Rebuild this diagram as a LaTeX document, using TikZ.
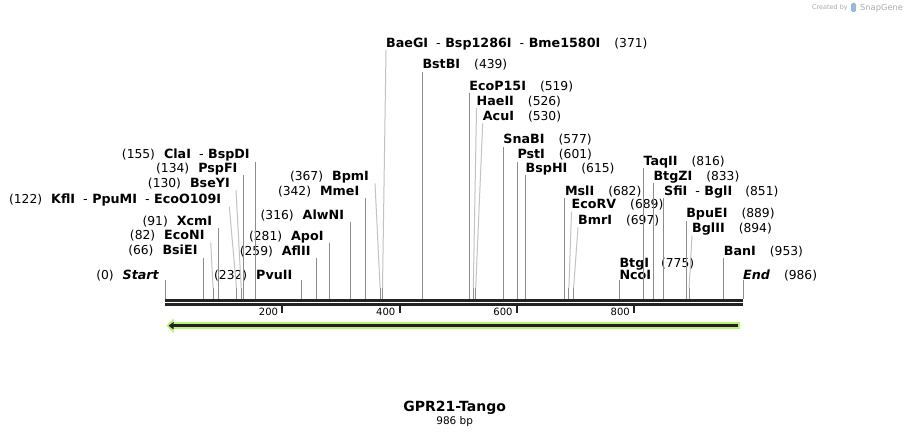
\documentclass[tikz,border=0pt]{standalone}
\usepackage{fontspec}
\setmainfont{DejaVu Sans}
\usepackage{xcolor}
\usepackage{tikz}
\usetikzlibrary{arrows.meta}

\definecolor{cutgray}{RGB}{140,140,140}
\definecolor{bentgray}{RGB}{195,195,195}
\definecolor{axisblack}{RGB}{34,34,34}
\definecolor{featgreen}{RGB}{185,240,120}
\definecolor{creditgray}{RGB}{170,170,170}
\definecolor{logoblue}{RGB}{150,185,215}

\newcommand{\enz}[1]{{\fontsize{12.7}{15}\selectfont\bfseries #1}}
\newcommand{\pos}[1]{{\fontsize{12.3}{15}\selectfont(#1)}}
\newcommand{\cutsep}{{\fontsize{12.7}{15}\selectfont\hspace{8pt}-\hspace{4.5pt}}}

\begin{document}
\begin{tikzpicture}
      [ x=1pt, y=-1pt
      , enzL/.style={anchor=south east, inner xsep=6pt, inner ysep=2.5pt, text depth=0pt}
      , enzR/.style={anchor=south west, inner xsep=0pt, inner ysep=2.5pt, text depth=0pt}
      , lowrow/.style={inner ysep=0.5pt}
      , cut/.style={cutgray, line width=1pt}
      , bent/.style={bentgray, line width=1pt}
      , backbone/.style={axisblack, line width=2.7pt}
      , tick/.style={axisblack, line width=2pt}
      , ticklbl/.style={anchor=base east, inner sep=0pt, font=\fontsize{10}{12}\selectfont}
      ]
    \useasboundingbox[fill=white] (0,0) rectangle (909,438);

    % credit line
    \node[anchor=base east, inner sep=0pt, text=creditgray, font=\fontsize{6.5}{8}\selectfont]
      (credit) at (848,10) {Created by};
    \fill[logoblue, rounded corners=1.5pt] (851,3) rectangle (856,12);
    \node[anchor=base west, inner sep=0pt, text=creditgray, font=\fontsize{8.3}{10}\selectfont]
      (snapgene) at (860,10.5) {SnapGene};

    % cut sites on the backbone
    \coordinate (sStart) at (165,299);
    \coordinate (sBsiEI) at (203.7,299);
    \coordinate (sEcoNI) at (213.1,299);
    \coordinate (sXcmI) at (218.3,299);
    \coordinate (sKflI) at (236.5,299);
    \coordinate (sBseYI) at (241.2,299);
    \coordinate (sPspFI) at (243.6,299);
    \coordinate (sClaI) at (255.9,299);
    \coordinate (sPvuII) at (301.0,299);
    \coordinate (sAflII) at (316.8,299);
    \coordinate (sApoI) at (329.7,299);
    \coordinate (sAlwNI) at (350.2,299);
    \coordinate (sMmeI) at (365.5,299);
    \coordinate (sBpmI) at (380.1,299);
    \coordinate (sBaeGI) at (382.5,299);
    \coordinate (sBstBI) at (422.3,299);
    \coordinate (sEcoP15I) at (469.2,299);
    \coordinate (sHaeII) at (473.3,299);
    \coordinate (sAcuI) at (475.7,299);
    \coordinate (sSnaBI) at (503.2,299);
    \coordinate (sPstI) at (517.3,299);
    \coordinate (sBspHI) at (525.5,299);
    \coordinate (sMslI) at (564.8,299);
    \coordinate (sEcoRV) at (568.9,299);
    \coordinate (sBmrI) at (573.6,299);
    \coordinate (sNcoI) at (619.3,299);
    \coordinate (sTaqII) at (643.3,299);
    \coordinate (sBtgZI) at (653.3,299);
    \coordinate (sSfiI) at (663.9,299);
    \coordinate (sBpuEI) at (686.1,299);
    \coordinate (sBglII) at (689.1,299);
    \coordinate (sBanI) at (723.7,299);
    \coordinate (sEnd) at (743.0,299);

    % labels left of their line
    \node[enzL, lowrow] (lStart) at (165,280) {\pos{0}\hspace{9pt}\enz{\itshape Start}};
    \node[enzL] (lBsiEI) at (203.7,257.5) {\pos{66}\hspace{9pt}\enz{BsiEI}};
    \node[enzL] (lEcoNI) at (210.7,242.5) {\pos{82}\hspace{9pt}\enz{EcoNI}};
    \node[enzL] (lXcmI) at (218.3,228) {\pos{91}\hspace{9pt}\enz{XcmI}};
    \node[enzL, inner xsep=8pt] (lKflI) at (229.3,206.7)
      {\pos{122}\hspace{9pt}\enz{KflI}\cutsep\enz{PpuMI}\cutsep\enz{EcoO109I}};
    \node[enzL] (lBseYI) at (236,190) {\pos{130}\hspace{9pt}\enz{BseYI}};
    \node[enzL] (lPspFI) at (243.6,175) {\pos{134}\hspace{9pt}\enz{PspFI}};
    \node[enzL] (lClaI) at (255.9,161.7) {\pos{155}\hspace{9pt}\enz{ClaI}\cutsep\enz{BspDI}};
    \node[enzL, lowrow, inner xsep=8.5pt] (lPvuII) at (301,280) {\pos{232}\hspace{9pt}\enz{PvuII}};
    \node[enzL] (lAflII) at (316.8,258.3) {\pos{259}\hspace{9pt}\enz{AflII}};
    \node[enzL] (lApoI) at (329.7,243.3) {\pos{281}\hspace{9pt}\enz{ApoI}};
    \node[enzL] (lAlwNI) at (350.2,221.7) {\pos{316}\hspace{9pt}\enz{AlwNI}};
    \node[enzL] (lMmeI) at (365.5,198.3) {\pos{342}\hspace{9pt}\enz{MmeI}};
    \node[enzL] (lBpmI) at (375,183.3) {\pos{367}\hspace{9pt}\enz{BpmI}};

    % labels right of their line
    \node[enzR] (lBaeGI) at (386,50)
      {\enz{BaeGI}\cutsep\enz{Bsp1286I}\cutsep\enz{Bme1580I}\hspace{14pt}\pos{371}};
    \node[enzR] (lBstBI) at (422.3,71.7) {\enz{BstBI}\hspace{14pt}\pos{439}};
    \node[enzR] (lEcoP15I) at (469.2,93.3) {\enz{EcoP15I}\hspace{14pt}\pos{519}};
    \node[enzR] (lHaeII) at (476.5,108.3) {\enz{HaeII}\hspace{14pt}\pos{526}};
    \node[enzR] (lAcuI) at (482.7,123.3) {\enz{AcuI}\hspace{14pt}\pos{530}};
    \node[enzR] (lSnaBI) at (503.2,146.7) {\enz{SnaBI}\hspace{14pt}\pos{577}};
    \node[enzR] (lPstI) at (517.3,161.7) {\enz{PstI}\hspace{14pt}\pos{601}};
    \node[enzR] (lBspHI) at (525.5,175.5) {\enz{BspHI}\hspace{14pt}\pos{615}};
    \node[enzR] (lMslI) at (564.8,198.3) {\enz{MslI}\hspace{14pt}\pos{682}};
    \node[enzR] (lEcoRV) at (571.5,211.7) {\enz{EcoRV}\hspace{14pt}\pos{689}};
    \node[enzR] (lBmrI) at (578,227.3) {\enz{BmrI}\hspace{14pt}\pos{697}};
    \node[enzR, lowrow, align=left] (lNcoI) at (619.3,280)
      {\enz{BtgI}\hspace{12pt}\pos{775}\\\enz{NcoI}};
    \node[enzR] (lTaqII) at (643.3,168.3) {\enz{TaqII}\hspace{14pt}\pos{816}};
    \node[enzR] (lBtgZI) at (653.3,183.3) {\enz{BtgZI}\hspace{14pt}\pos{833}};
    \node[enzR] (lSfiI) at (663.9,198.3) {\enz{SfiI}\cutsep\enz{BglI}\hspace{13pt}\pos{851}};
    \node[enzR] (lBpuEI) at (686.1,220.7) {\enz{BpuEI}\hspace{14pt}\pos{889}};
    \node[enzR] (lBglII) at (692,235.7) {\enz{BglII}\hspace{14pt}\pos{894}};
    \node[enzR] (lBanI) at (723.7,257.7) {\enz{BanI}\hspace{14pt}\pos{953}};
    \node[enzR, lowrow] (lEnd) at (743,280) {\enz{\itshape End}\hspace{14pt}\pos{986}};

    % straight cut lines
    \draw[cut]
    (sStart) edge (lStart.south east)
    (sBsiEI) edge (lBsiEI.south east)
    (sXcmI) edge (lXcmI.south east)
    (sPspFI) edge (lPspFI.south east)
    (sClaI) edge (lClaI.south east)
    (sPvuII) edge (lPvuII.south east)
    (sAflII) edge (lAflII.south east)
    (sApoI) edge (lApoI.south east)
    (sAlwNI) edge (lAlwNI.south east)
    (sMmeI) edge (lMmeI.south east)

    (sBstBI) edge (lBstBI.south west)
    (sEcoP15I) edge (lEcoP15I.south west)
    (sSnaBI) edge (lSnaBI.south west)
    (sPstI) edge (lPstI.south west)
    (sBspHI) edge (lBspHI.south west)
    (sMslI) edge (lMslI.south west)
    (sNcoI) edge (lNcoI.south west)
    (sTaqII) edge (lTaqII.south west)
    (sBtgZI) edge (lBtgZI.south west)
    (sSfiI) edge (lSfiI.south west)
    (sBpuEI) edge (lBpuEI.south west)
    (sBanI) edge (lBanI.south west)
    (sEnd) edge (lEnd.south west);

    % cut lines with a kink
    \draw[cut]
    (sEcoNI) -- +(0,-11)
    (sKflI) -- +(0,-11)
    (sBseYI) -- +(0,-11)
    (sBpmI) -- +(0,-11)
    (sBaeGI) -- +(0,-11)
    (sHaeII) -- +(0,-11)
    (sAcuI) -- +(0,-11)
    (sEcoRV) -- +(0,-11)
    (sBmrI) -- +(0,-11)
    (sBglII) -- +(0,-11);

    \draw[bent]
    (sEcoNI) ++(0,-11) -- (lEcoNI.south east)
    (sKflI) ++(0,-11) -- (lKflI.south east)
    (sBseYI) ++(0,-11) -- (lBseYI.south east)
    (sBpmI) ++(0,-11) -- (lBpmI.south east)
    (sBaeGI) ++(0,-11) -- (lBaeGI.south west)
    (sHaeII) ++(0,-11) -- (lHaeII.south west)
    (sAcuI) ++(0,-11) -- (lAcuI.south west)
    (sEcoRV) ++(0,-11) -- (lEcoRV.south west)
    (sBmrI) ++(0,-11) -- (lBmrI.south west)
    (sBglII) ++(0,-11) -- (lBglII.south west);

    % backbone (two strands)
    \coordinate (a0) at (165,300.6);
    \coordinate (a986) at (743.3,300.6);
    \draw[backbone] (a0) -- (a986);
    \draw[backbone, line width=3pt] ([yshift=-4.2pt]a0) -- ([yshift=-4.2pt]a986);

    % ruler
    \draw[tick] (282.2,306) -- (282.2,312.5);
    \draw[tick] (399.5,306) -- (399.5,312.5);
    \draw[tick] (516.7,306) -- (516.7,312.5);
    \draw[tick] (634.0,306) -- (634.0,312.5);
    \node[ticklbl] (r200) at (278.2,315.5) {200};
    \node[ticklbl] (r400) at (395.5,315.5) {400};
    \node[ticklbl] (r600) at (512.7,315.5) {600};
    \node[ticklbl] (r800) at (630.0,315.5) {800};

    % feature arrow
    \coordinate (fTail) at (739.5,325.7);
    \coordinate (fHead) at (166.5,325.7);
    \draw[featgreen, line width=7pt, -{Triangle[length=7pt,width=14pt]}] (fTail) -- (fHead);
    \draw[axisblack, line width=2.6pt, shorten <=2pt, shorten >=2pt,
          -{Triangle[length=5pt,width=7pt]}] (fTail) -- (fHead);

    % name and size
    \node[anchor=base, inner sep=0pt, font=\fontsize{14}{16}\selectfont\bfseries]
      (title) at (454.7,411.7) {GPR21-Tango};
    \node[anchor=base, inner sep=0pt, font=\fontsize{10.5}{12}\selectfont]
      (size) at (454.7,424) {986 bp};

  \end{tikzpicture}
\end{document}
